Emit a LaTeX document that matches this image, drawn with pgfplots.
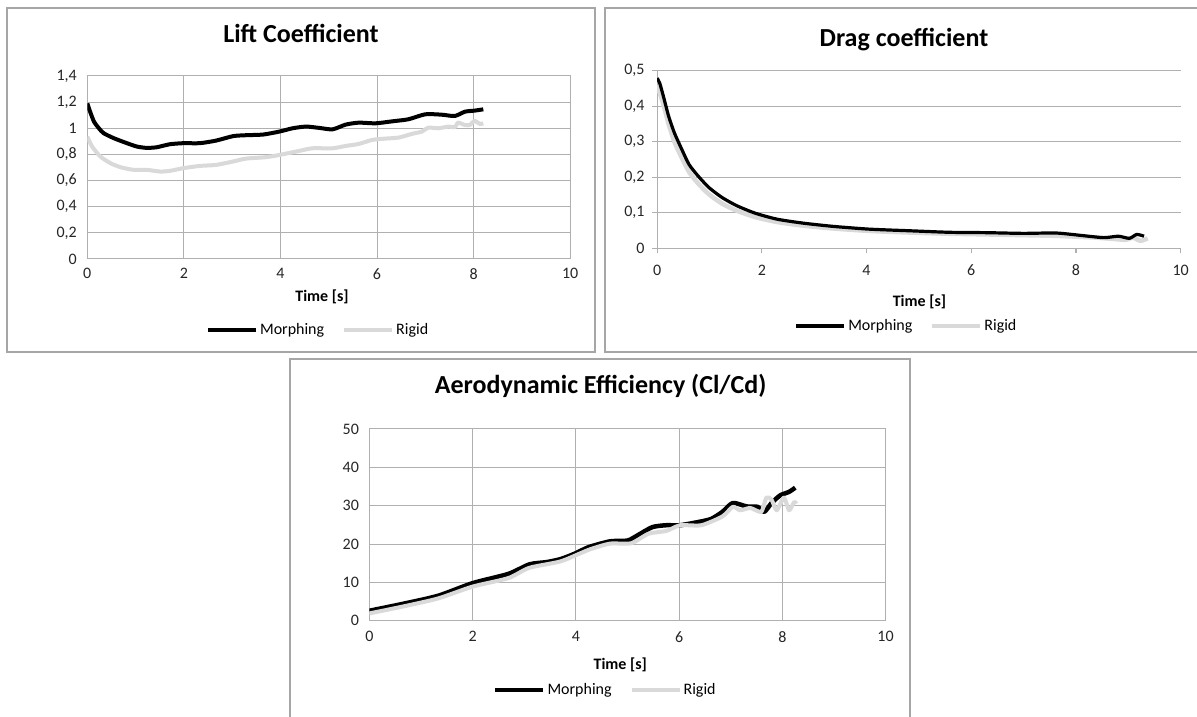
\documentclass[border=0pt]{standalone}
\usepackage{fontspec}
\setmainfont{Carlito}
\usepackage{pgfplots}
\pgfplotsset{compat=1.18}

\definecolor{gridgray}{HTML}{B0B0B0}
\definecolor{framegray}{HTML}{A6A6A6}
\definecolor{rigidgray}{HTML}{D9D9D9}

\pgfplotsset{
  panel/.style={
    scale only axis, anchor=south west,
    xmin=0, xmax=10, xtick={0,2,4,6,8,10},
    /pgf/number format/assume math mode=true,
    /pgf/number format/use comma,
    ticklabel style={font=\fontsize{16}{19}\selectfont, text=black!85},
    xlabel={Time [s]},
    xlabel style={font=\bfseries\fontsize{16}{19}\selectfont},
    title style={font=\bfseries\fontsize{26}{30}\selectfont},
    grid style={gridgray, line width=1pt},
    legend columns=2,
    legend style={draw=none, fill=none, inner sep=0pt,
      font=\fontsize{16}{19}\selectfont,
      nodes={inner sep=2pt},
      /tikz/every even column/.append style={column sep=16pt}},
    legend image code/.code={\draw[#1] (0pt,0pt) -- (48pt,0pt);},
  },
  morph/.style={black, line width=4pt, line join=round, smooth, tension=0.4},
  rigid/.style={rigidgray, line width=4pt, line join=round, smooth, tension=0.4},
}

\begin{document}
\begin{tikzpicture}
\fill[white] (0pt,0pt) rectangle (1197pt,717pt);
\useasboundingbox (0pt,0pt) rectangle (1197pt,717pt);

% panel frames
\draw[framegray, line width=2pt] (7pt,365pt) rectangle (595pt,709pt);
\draw[framegray, line width=2pt] (605pt,365pt) rectangle (1205pt,709pt);
\draw[framegray, line width=2pt] (290pt,-10pt) rectangle (910pt,358pt);

% ---------------- Lift coefficient
\begin{axis}[panel,
  at={(87.3pt,458pt)}, width=482.9pt, height=183pt,
  ymin=0, ymax=1.4, ytick={0,0.2,0.4,0.6,0.8,1,1.2,1.4},
  yticklabel style={/pgf/number format/fixed, /pgf/number format/precision=1, xshift=-7pt},
  xticklabel style={yshift=-6pt},
  grid=major, major tick length=0pt, axis line style={gridgray, line width=1pt},
  title={Lift Coefficient},
  title style={at={(axis description cs:0.4425,1.197)}, anchor=center},
  xlabel style={at={(axis description cs:0.486,-0.208)}, anchor=center},
  legend style={at={(axis description cs:0.478,-0.388)}, anchor=center},
]
\addplot[morph] coordinates {
(0,1.19) (0.07,1.115) (0.14,1.05) (0.24,1.0) (0.34,0.962) (0.55,0.924)
(0.82,0.886) (1.03,0.86) (1.23,0.85) (1.44,0.855) (1.71,0.878) (1.99,0.886)
(2.33,0.886) (2.67,0.906) (3.02,0.94) (3.29,0.947) (3.64,0.952) (3.98,0.975)
(4.25,1.0) (4.53,1.013) (4.8,1.003) (5.08,0.992) (5.35,1.028) (5.62,1.043)
(5.97,1.038) (6.31,1.053) (6.65,1.069) (7.0,1.107) (7.34,1.104) (7.61,1.094)
(7.82,1.127) (8.02,1.135) (8.2,1.145)};
\addlegendentry{Morphing}
\addplot[rigid] coordinates {
(0,0.936) (0.1,0.86) (0.27,0.784) (0.48,0.733) (0.69,0.702) (0.96,0.682)
(1.23,0.682) (1.51,0.669) (1.71,0.674) (1.99,0.695) (2.33,0.712) (2.67,0.72)
(3.02,0.746) (3.29,0.768) (3.7,0.779) (3.98,0.796) (4.39,0.827) (4.66,0.847)
(5.08,0.847) (5.35,0.865) (5.62,0.88) (5.9,0.911) (6.17,0.921) (6.45,0.929)
(6.72,0.957) (6.93,0.975) (7.06,1.005) (7.27,1.0) (7.48,1.013) (7.61,1.008)
(7.68,1.043) (7.82,1.025) (7.92,1.025) (8.02,1.056) (8.13,1.033) (8.2,1.038)};
\addlegendentry{Rigid}
\end{axis}

% ---------------- Drag coefficient
\begin{axis}[panel,
  at={(657.1pt,468.7pt)}, width=523.6pt, height=177.6pt,
  ymin=0, ymax=0.5, ytick={0,0.1,0.2,0.3,0.4,0.5},
  yticklabel style={/pgf/number format/fixed, /pgf/number format/precision=1, xshift=-4pt},
  xticklabel style={yshift=-8pt},
  axis lines=left, axis line style={-, gridgray, line width=1.2pt},
  ymajorgrids=true, tick align=outside, major tick length=5pt,
  tick style={gridgray, line width=1.2pt},
  title={Drag coefficient},
  title style={at={(axis description cs:0.4715,1.142)}, anchor=center},
  xlabel style={at={(axis description cs:0.501,-0.302)}, anchor=center},
  legend style={at={(axis description cs:0.476,-0.437)}, anchor=center},
]
\addlegendimage{morph}
\addlegendentry{Morphing}
\addlegendimage{rigid}
\addlegendentry{Rigid}
\addplot[rigid, line width=4.5pt, forget plot] coordinates {
(0,0.46) (0.12,0.405) (0.22,0.35) (0.33,0.30) (0.47,0.255) (0.61,0.215)
(0.78,0.183) (0.99,0.152) (1.24,0.126) (1.52,0.106) (1.87,0.088) (2.29,0.074)
(2.78,0.064) (3.34,0.056) (4.04,0.049) (4.88,0.044) (5.59,0.041) (6.29,0.039)
(6.99,0.037) (7.62,0.035) (8.11,0.032) (8.39,0.03) (8.74,0.026) (8.95,0.024)
(9.09,0.03) (9.23,0.021) (9.37,0.028)};
\addplot[morph, line width=3.2pt, forget plot] coordinates {
(0,0.479) (0.05,0.465) (0.12,0.428) (0.22,0.372) (0.33,0.325) (0.47,0.279)
(0.61,0.236) (0.78,0.204) (0.99,0.171) (1.24,0.143) (1.52,0.12) (1.87,0.099)
(2.29,0.082) (2.78,0.071) (3.34,0.062) (4.04,0.054) (4.88,0.049) (5.59,0.045)
(6.29,0.044) (6.99,0.042) (7.62,0.043) (8.11,0.036) (8.53,0.03) (8.81,0.034)
(9.02,0.028) (9.16,0.039) (9.3,0.034)};
\end{axis}

% ---------------- Aerodynamic efficiency
\begin{axis}[panel,
  at={(369.4pt,96.3pt)}, width=516.2pt, height=191.7pt,
  ymin=0, ymax=50, ytick={0,10,20,30,40,50},
  yticklabel style={xshift=-7pt},
  xticklabel style={yshift=-7pt},
  grid=major, major tick length=0pt, axis line style={gridgray, line width=1pt},
  title={Aerodynamic Efficiency (Cl/Cd)},
  title style={at={(axis description cs:0.448,1.195)}, anchor=center},
  xlabel style={at={(axis description cs:0.486,-0.231)}, anchor=center},
  legend style={at={(axis description cs:0.457,-0.3615)}, anchor=center},
]
\addplot[morph, line width=4.5pt] coordinates {
(0,2.6) (0.65,4.4) (1.33,6.5) (2.0,9.8) (2.69,12.2) (3.1,14.7) (3.44,15.3)
(3.71,16.1) (3.98,17.5) (4.25,19.2) (4.66,20.7) (5.0,20.9) (5.2,22.3)
(5.48,24.4) (5.75,24.9) (6.02,24.9) (6.43,25.9) (6.63,26.6) (6.84,28.4)
(7.04,30.7) (7.31,29.8) (7.52,29.7) (7.65,28.4) (7.79,30.7) (7.96,32.7)
(8.13,33.6) (8.25,34.7)};
\addlegendentry{Morphing}
\addplot[rigid] coordinates {
(0,1.9) (0.65,3.7) (1.33,5.8) (2.0,8.9) (2.69,11.1) (3.1,13.8) (3.71,15.5)
(4.25,18.5) (4.66,20.1) (5.07,20.2) (5.41,22.7) (5.75,23.4) (6.02,24.9)
(6.43,24.9) (6.84,27.2) (7.04,29.7) (7.18,28.8) (7.38,29.4) (7.59,28.4)
(7.69,32.1) (7.79,31.6) (7.89,28.8) (8.03,32.1) (8.13,28.8) (8.23,31.0)
(8.27,30.5)};
\addlegendentry{Rigid}
\end{axis}
\end{tikzpicture}
\end{document}
